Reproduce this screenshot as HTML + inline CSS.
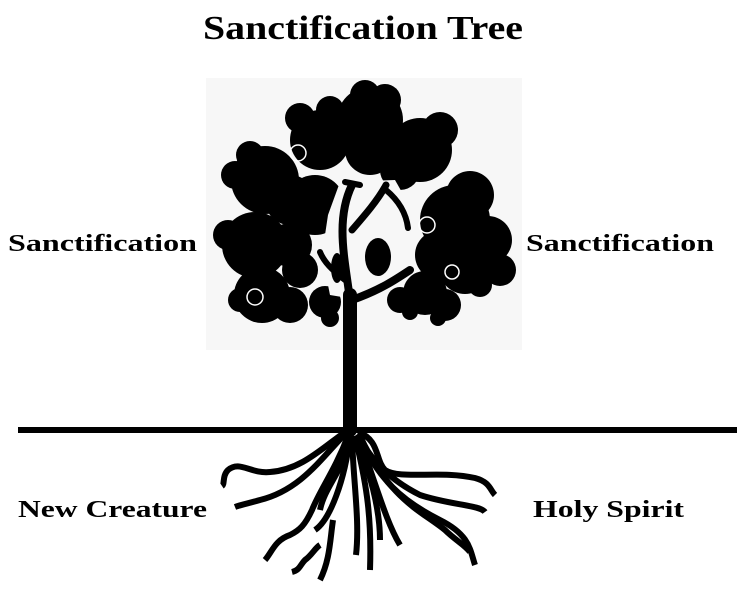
<!DOCTYPE html>
<html><head><meta charset="utf-8"><style>
html,body{margin:0;padding:0;background:#fff;width:747px;height:592px;overflow:hidden}
svg{display:block}
text{font-family:"Liberation Serif","DejaVu Serif",serif;font-weight:bold;fill:#000}
</style></head><body>
<svg width="747" height="592" viewBox="0 0 747 592" xmlns="http://www.w3.org/2000/svg">
<rect x="206" y="78" width="316" height="272" fill="#f7f7f7"/>
<text x="203" y="39" font-size="34" textLength="320" lengthAdjust="spacingAndGlyphs">Sanctification Tree</text>
<text x="8" y="251" font-size="24" textLength="189" lengthAdjust="spacingAndGlyphs">Sanctification</text>
<text x="526" y="251" font-size="24" textLength="188" lengthAdjust="spacingAndGlyphs">Sanctification</text>
<text x="18" y="517" font-size="24" textLength="189" lengthAdjust="spacingAndGlyphs">New Creature</text>
<text x="533" y="517" font-size="24" textLength="151" lengthAdjust="spacingAndGlyphs">Holy Spirit</text>
<!-- canopy -->
<g fill="#000">
<circle cx="370" cy="120" r="33"/><circle cx="365" cy="95" r="15"/><circle cx="385" cy="100" r="16"/><circle cx="370" cy="150" r="25"/>
<circle cx="320" cy="140" r="30"/><circle cx="300" cy="118" r="15"/><circle cx="330" cy="110" r="14"/>
<circle cx="420" cy="150" r="32"/><circle cx="440" cy="130" r="18"/><circle cx="400" cy="170" r="20"/>
<circle cx="265" cy="180" r="34"/><circle cx="235" cy="175" r="14"/><circle cx="250" cy="155" r="14"/><circle cx="290" cy="200" r="25"/>
<circle cx="315" cy="205" r="30"/>
<circle cx="455" cy="220" r="35"/><circle cx="470" cy="195" r="24"/><circle cx="488" cy="240" r="24"/><circle cx="500" cy="270" r="16"/><circle cx="440" cy="255" r="25"/><circle cx="480" cy="285" r="12"/>
<circle cx="255" cy="245" r="33"/><circle cx="228" cy="235" r="15"/><circle cx="290" cy="245" r="22"/>
<circle cx="262" cy="295" r="28"/><circle cx="240" cy="300" r="12"/><circle cx="290" cy="305" r="18"/>
<circle cx="300" cy="270" r="18"/>
<circle cx="325" cy="302" r="16"/><circle cx="330" cy="318" r="9"/>
<circle cx="425" cy="293" r="22"/><circle cx="445" cy="305" r="16"/><circle cx="400" cy="300" r="13"/><circle cx="410" cy="312" r="8"/>
<circle cx="465" cy="268" r="26"/>
<circle cx="438" cy="318" r="8"/>
</g>
<!-- interior gap -->
<path d="M340 182 L395 180 L412 210 L408 255 L385 290 L360 300 L330 295 L322 255 L328 215 Z" fill="#f7f7f7"/>
<g fill="#000">
<ellipse cx="378" cy="257" rx="13" ry="19"/><ellipse cx="337" cy="268" rx="6" ry="15"/>
</g>
<!-- trunk and branches -->
<g stroke="#000" fill="none" stroke-linecap="round">
<path d="M350 430 L350 295" stroke-width="14"/>
<path d="M350 300 C345 260 335 220 352 185" stroke-width="8"/>
<path d="M352 300 C380 290 395 280 410 270" stroke-width="8"/>
<path d="M352 230 C365 215 378 200 386 185" stroke-width="7"/>
<path d="M386 190 C398 200 406 212 408 228" stroke-width="6"/>
<path d="M345 280 C332 270 324 262 320 252" stroke-width="6"/>
<path d="M360 185 L345 182" stroke-width="6"/>
</g>
<circle cx="298" cy="153" r="8" fill="none" stroke="#fff" stroke-width="1.5"/>
<circle cx="427" cy="225" r="8" fill="none" stroke="#fff" stroke-width="1.5"/>
<circle cx="255" cy="297" r="8" fill="none" stroke="#fff" stroke-width="1.5"/>
<circle cx="452" cy="272" r="7" fill="none" stroke="#fff" stroke-width="1.5"/>
<!-- ground -->
<rect x="18" y="427" width="719" height="6" fill="#000"/>
<!-- roots -->
<g stroke="#000" stroke-width="6" fill="none" stroke-linecap="butt">
<path d="M345 432 C320 450 300 470 270 472 C250 474 240 460 228 470 C222 476 225 484 222 486"/>
<path d="M345 434 C320 460 300 490 260 500 C250 503 240 505 235 507"/>
<path d="M348 436 C335 470 320 490 312 510 C305 525 300 530 290 535 C275 540 272 552 265 560"/>
<path d="M350 436 C345 480 330 520 315 530"/>
<path d="M350 436 C345 470 325 485 320 510"/>
<path d="M352 436 C353 480 360 520 356 555"/>
<path d="M333 520 C330 540 330 560 320 580 M320 545 C315 548 312 555 305 560 C300 565 300 570 292 572"/>
<path d="M355 436 C365 480 372 510 370 570"/>
<path d="M355 436 C370 470 380 510 380 540"/>
<path d="M358 432 C380 440 375 460 385 470 C400 480 440 470 475 478 C490 482 490 490 495 495"/>
<path d="M358 434 C370 460 390 480 420 495 C450 505 480 505 485 512"/>
<path d="M358 436 C380 480 400 500 440 520 C470 535 470 550 475 565"/>
<path d="M358 436 C375 480 385 520 400 545"/>
<path d="M360 436 C390 500 420 510 445 530 C455 540 465 545 470 552"/>
</g>
</svg>
</body></html>
